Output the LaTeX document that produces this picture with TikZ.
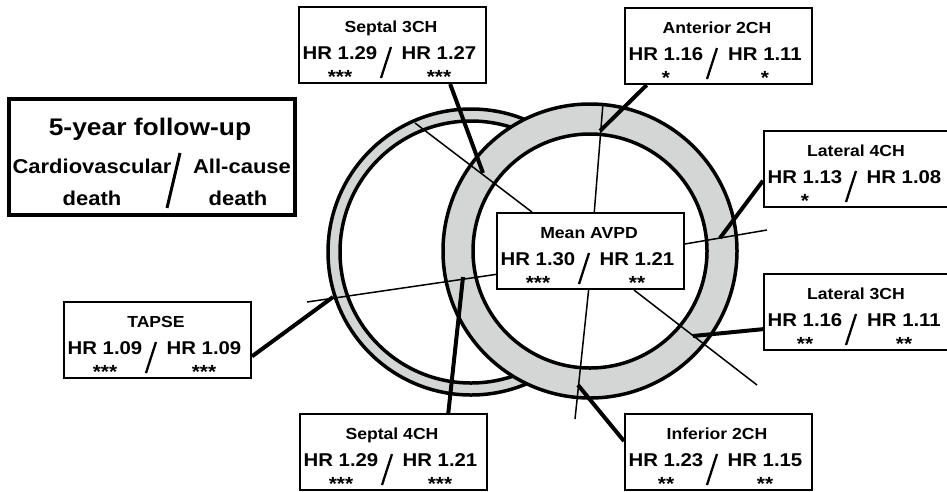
\documentclass[tikz,border=0pt]{standalone}
\usepackage{fontspec}
\setmainfont{Liberation Sans}
\newfontfamily\widefont{Liberation Sans}[FakeStretch=1.1]
\usetikzlibrary{calc}
\definecolor{ringgray}{RGB}{212,214,214}
\newcommand{\hrbox}[8]{%
  \node[box] (#1) at (#2,#3) {};
  \node[ttl] (#1-t) at ($(#1.north west)+(93,26)$) {#4};
  \node[hr] (#1-h1) at ($(#1.north west)+(42,53)$) {HR #5};
  \node[hr] (#1-h2) at ($(#1.north west)+(141,53)$) {HR #6};
  \node[stars] (#1-s1) at ($(#1.north west)+(42,77)$) {#7};
  \node[stars] (#1-s2) at ($(#1.north west)+(141,77)$) {#8};
  \draw[slash] ($(#1.north west)+(93,41)$) -- ($(#1.north west)+(83,72)$);
}
\begin{document}
\begin{tikzpicture}[x=1pt,y=-1pt,
  box/.style={draw, line width=2pt, minimum width=187pt, minimum height=76pt, inner sep=0pt, fill=white, anchor=north west},
  legbox/.style={draw, line width=3.5pt, minimum width=286pt, minimum height=116pt, inner sep=0pt, fill=white, anchor=north west},
  ttl/.style={font=\widefont\bfseries\fontsize{16}{16}\selectfont, anchor=base, inner sep=0pt},
  hr/.style={font=\widefont\bfseries\fontsize{18.5}{19}\selectfont, anchor=base, inner sep=0pt},
  stars/.style={font=\widefont\bfseries\fontsize{19}{19}\selectfont, anchor=base, inner sep=0pt, text depth=0pt},
  legtitle/.style={font=\widefont\bfseries\fontsize{24}{24}\selectfont, anchor=base, inner sep=0pt},
  legtxt/.style={font=\widefont\bfseries\fontsize{20}{20}\selectfont, anchor=base, inner sep=0pt},
  slash/.style={line width=2.3pt},
  legslash/.style={line width=3pt},
  conn/.style={line width=4pt},
  thinl/.style={line width=1.5pt},
  ring/.style={line width=3.5pt},
]
\useasboundingbox (0,0) rectangle (947,491);
\fill[white] (0,0) rectangle (947,491);

% right ventricle ring
\fill[ringgray, even odd rule] (471,252) circle[radius=143pt] (471,252) circle[radius=131pt];
\draw[ring] (471,252) circle[radius=143pt];
\draw[ring] (471,252) circle[radius=131pt];
% left ventricle ring
\fill[white] (590,251) circle[radius=147pt];
\fill[ringgray, even odd rule] (590,251) circle[radius=147pt] (590,251) circle[radius=117pt];
\draw[ring] (590,251) circle[radius=147pt];
\draw[ring] (590,251) circle[radius=117pt];

% free ends
\coordinate (t1) at (415,123);
\coordinate (t2) at (307,302);
\coordinate (t3) at (603,103);
\coordinate (t4) at (767,230);
\coordinate (t5) at (757,385);
\coordinate (t6) at (575,419);
\coordinate (e-s3ch) at (483,173);
\coordinate (e-a2ch) at (600,131);
\coordinate (e-l4ch) at (720,238);
\coordinate (e-l3ch) at (693,336);
\coordinate (e-i2ch) at (578,385);
\coordinate (e-s4ch) at (463,277);
\coordinate (e-tapse) at (333,297);

% legend
\node[legbox] (legend) at (7,97) {};
\node[legtitle] (leg-t) at ($(legend.north west)+(143,38)$) {5-year follow-up};
\node[legtxt] (leg-a) at ($(legend.north west)+(85,76)$) {Cardiovascular};
\node[legtxt] (leg-b) at ($(legend.north west)+(85,108)$) {death};
\node[legtxt] (leg-c) at ($(legend.north west)+(235,76)$) {All-cause};
\node[legtxt] (leg-d) at ($(legend.north west)+(231,108)$) {death};
\draw[legslash] ($(legend.north west)+(173,56)$) -- ($(legend.north west)+(160,111)$);

% central box
\hrbox{avpd}{496}{212}{Mean AVPD}{1.30}{1.21}{***}{**}

% thin lines
\draw[thinl] (t1) -- ($(avpd.north west)!0.19!(avpd.north east)$);
\draw[thinl] (t2) -- ($(avpd.north west)!0.80!(avpd.south west)$);
\draw[thinl] ($(avpd.north west)!0.52!(avpd.north east)$) -- (t3);
\draw[thinl] ($(avpd.north east)!0.41!(avpd.south east)$) -- (t4);
\draw[thinl] ($(avpd.south west)!0.73!(avpd.south east)$) -- (t5);
\draw[thinl] ($(avpd.south west)!0.49!(avpd.south east)$) -- (t6);

\hrbox{s3ch}{298}{6}{Septal 3CH}{1.29}{1.27}{***}{***}
\hrbox{a2ch}{624}{7}{Anterior 2CH}{1.16}{1.11}{*}{*}
\hrbox{l4ch}{763}{130}{Lateral 4CH}{1.13}{1.08}{*}{}
\hrbox{l3ch}{763}{273}{Lateral 3CH}{1.16}{1.11}{**}{**}
\hrbox{i2ch}{624}{413}{Inferior 2CH}{1.23}{1.15}{**}{**}
\hrbox{tapse}{63}{301}{TAPSE}{1.09}{1.09}{***}{***}
\hrbox{s4ch}{299}{413}{Septal 4CH}{1.29}{1.21}{***}{***}

% thick connectors
\draw[conn] ($(s3ch.south west)!0.805!(s3ch.south east)$) -- (e-s3ch);
\draw[conn] ($(a2ch.south west)!0.12!(a2ch.south east)$) -- (e-a2ch);
\draw[conn] ($(l4ch.north west)!0.65!(l4ch.south west)$) -- (e-l4ch);
\draw[conn] ($(l3ch.north west)!0.72!(l3ch.south west)$) -- (e-l3ch);
\draw[conn] ($(i2ch.north west)!0.36!(i2ch.south west)$) -- (e-i2ch);
\draw[conn] ($(s4ch.north west)!0.79!(s4ch.north east)$) -- (e-s4ch);
\draw[conn] ($(tapse.north east)!0.71!(tapse.south east)$) -- (e-tapse);
\end{tikzpicture}
\end{document}
